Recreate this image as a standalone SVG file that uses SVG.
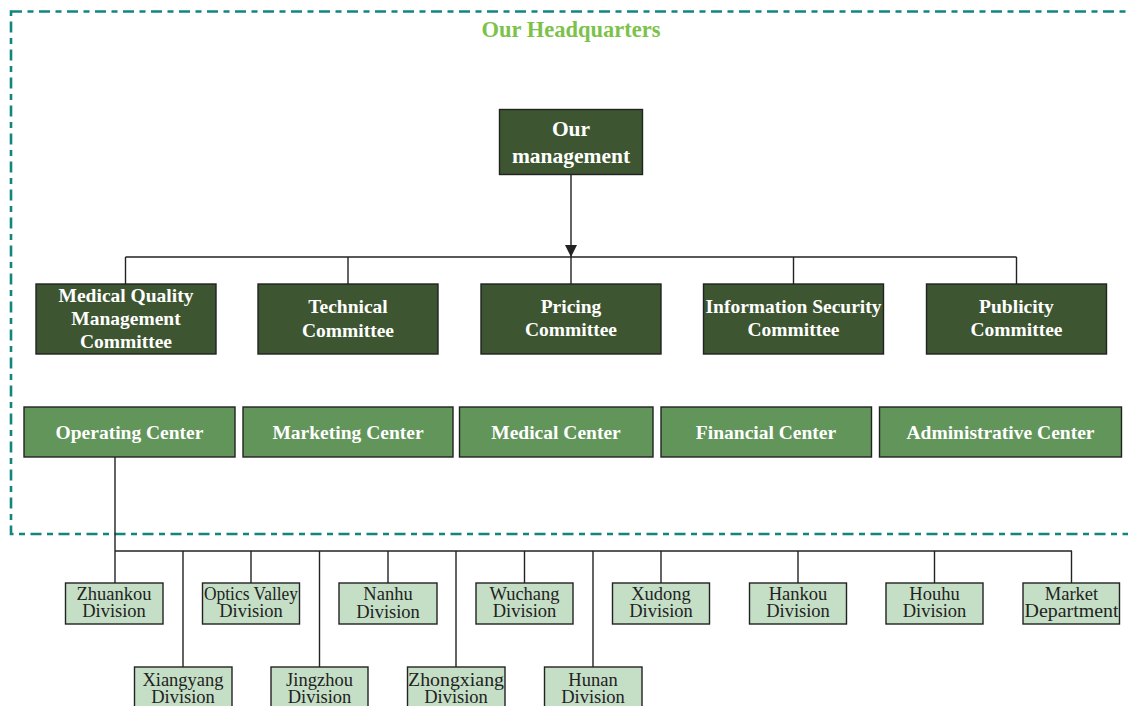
<svg xmlns="http://www.w3.org/2000/svg" width="1128" height="706" viewBox="0 0 1128 706">
<defs>
<style>
.hq{fill:none;stroke:#128580;stroke-width:2.6;stroke-dasharray:11 5.5 6 5.5}
.title{font-family:"Liberation Serif",serif;font-weight:bold;font-size:22.5px;fill:#7cc24a;text-anchor:middle}
.dark{fill:#3d5530;stroke:#222;stroke-width:1.4}
.mid{fill:#62955a;stroke:#222;stroke-width:1.4}
.light{fill:#c5dfc6;stroke:#222;stroke-width:1.4}
.wt{font-family:"Liberation Serif",serif;font-weight:bold;font-size:19.5px;fill:#fff;text-anchor:middle}
.bt{font-family:"Liberation Serif",serif;font-size:18.5px;fill:#222;text-anchor:middle}
.ln{fill:none;stroke:#222;stroke-width:1.4}
</style>
<marker id="arr" viewBox="0 0 12 12" refX="12" refY="6" markerWidth="12" markerHeight="12" markerUnits="userSpaceOnUse" orient="auto">
<path d="M0,0 L12,6 L0,12 Z" fill="#222"/>
</marker>
</defs>
<rect width="1128" height="706" fill="#fff"/>
<rect class="hq" x="11" y="11.5" width="1140" height="522.5"/>
<text class="title" x="571" y="37">Our Headquarters</text>

<g id="connectors">
<line class="ln" x1="571" y1="175" x2="571" y2="257" marker-end="url(#arr)"/>
<line class="ln" x1="125.5" y1="257" x2="1016.5" y2="257"/>
<line class="ln" x1="125.5" y1="257" x2="125.5" y2="284"/>
<line class="ln" x1="348" y1="257" x2="348" y2="284"/>
<line class="ln" x1="571" y1="257" x2="571" y2="284"/>
<line class="ln" x1="793.5" y1="257" x2="793.5" y2="284"/>
<line class="ln" x1="1016.5" y1="257" x2="1016.5" y2="284"/>
<line class="ln" x1="115" y1="457" x2="115" y2="583"/>
<line class="ln" x1="115" y1="551" x2="1072" y2="551"/>
<line class="ln" x1="183" y1="551" x2="183" y2="667"/>
<line class="ln" x1="251" y1="551" x2="251" y2="583"/>
<line class="ln" x1="319.5" y1="551" x2="319.5" y2="667"/>
<line class="ln" x1="388" y1="551" x2="388" y2="583"/>
<line class="ln" x1="456" y1="551" x2="456" y2="667"/>
<line class="ln" x1="524.5" y1="551" x2="524.5" y2="583"/>
<line class="ln" x1="593" y1="551" x2="593" y2="667"/>
<line class="ln" x1="661" y1="551" x2="661" y2="583"/>
<line class="ln" x1="798" y1="551" x2="798" y2="583"/>
<line class="ln" x1="934.5" y1="551" x2="934.5" y2="583"/>
<line class="ln" x1="1071.5" y1="551" x2="1071.5" y2="583"/>
</g>

<g id="management">
<rect class="dark" x="499.5" y="109.5" width="143" height="65"/>
<text class="wt" x="571" y="136" style="font-size:21.5px">Our</text>
<text class="wt" x="571" y="163" style="font-size:21.5px">management</text>
</g>

<g id="medical-quality">
<rect class="dark" x="36" y="284" width="180" height="70"/>
<text class="wt" x="126" y="302">Medical Quality</text>
<text class="wt" x="126" y="325">Management</text>
<text class="wt" x="126" y="348">Committee</text>
</g>
<g id="technical">
<rect class="dark" x="258" y="284" width="180" height="70"/>
<text class="wt" x="348" y="313">Technical</text>
<text class="wt" x="348" y="337">Committee</text>
</g>
<g id="pricing">
<rect class="dark" x="481" y="284" width="180" height="70"/>
<text class="wt" x="571" y="313">Pricing</text>
<text class="wt" x="571" y="336">Committee</text>
</g>
<g id="information-security">
<rect class="dark" x="703.5" y="284" width="180" height="70"/>
<text class="wt" x="793.5" y="313">Information Security</text>
<text class="wt" x="793.5" y="336">Committee</text>
</g>
<g id="publicity">
<rect class="dark" x="926.5" y="284" width="180" height="70"/>
<text class="wt" x="1016.5" y="313">Publicity</text>
<text class="wt" x="1016.5" y="336">Committee</text>
</g>

<g id="operating-center">
<rect class="mid" x="24" y="407" width="211" height="50"/>
<text class="wt" x="129.5" y="439">Operating Center</text>
</g>
<g id="marketing-center">
<rect class="mid" x="243" y="407" width="210" height="50"/>
<text class="wt" x="348" y="439">Marketing Center</text>
</g>
<g id="medical-center">
<rect class="mid" x="459.5" y="407" width="193.5" height="50"/>
<text class="wt" x="556" y="439">Medical Center</text>
</g>
<g id="financial-center">
<rect class="mid" x="661" y="407" width="210.5" height="50"/>
<text class="wt" x="766" y="439">Financial Center</text>
</g>
<g id="administrative-center">
<rect class="mid" x="879.5" y="407" width="242" height="50"/>
<text class="wt" x="1000.5" y="439">Administrative Center</text>
</g>

<g id="zhuankou">
<rect class="light" x="65.5" y="583" width="97.5" height="41"/>
<text class="bt" x="114" y="600">Zhuankou</text>
<text class="bt" x="114" y="617">Division</text>
</g>
<g id="optics-valley">
<rect class="light" x="202.5" y="583" width="97" height="41"/>
<text class="bt" x="251" y="600" textLength="94" lengthAdjust="spacingAndGlyphs">Optics Valley</text>
<text class="bt" x="251" y="617">Division</text>
</g>
<g id="nanhu">
<rect class="light" x="339" y="583" width="98" height="41"/>
<text class="bt" x="388" y="600">Nanhu</text>
<text class="bt" x="388" y="618">Division</text>
</g>
<g id="wuchang">
<rect class="light" x="476" y="583" width="97" height="41"/>
<text class="bt" x="524.5" y="600">Wuchang</text>
<text class="bt" x="524.5" y="617">Division</text>
</g>
<g id="xudong">
<rect class="light" x="612.5" y="583" width="97" height="41"/>
<text class="bt" x="661" y="600">Xudong</text>
<text class="bt" x="661" y="617">Division</text>
</g>
<g id="hankou">
<rect class="light" x="749.5" y="583" width="97" height="41"/>
<text class="bt" x="798" y="600">Hankou</text>
<text class="bt" x="798" y="617">Division</text>
</g>
<g id="houhu">
<rect class="light" x="886" y="583" width="97" height="41"/>
<text class="bt" x="934.5" y="600">Houhu</text>
<text class="bt" x="934.5" y="617">Division</text>
</g>
<g id="market-department">
<rect class="light" x="1023" y="583" width="96.5" height="41"/>
<text class="bt" x="1071.5" y="600">Market</text>
<text class="bt" x="1071.5" y="617" textLength="94" lengthAdjust="spacingAndGlyphs">Department</text>
</g>

<g id="xiangyang">
<rect class="light" x="134.5" y="667" width="97.5" height="45"/>
<text class="bt" x="183" y="686">Xiangyang</text>
<text class="bt" x="183" y="703">Division</text>
</g>
<g id="jingzhou">
<rect class="light" x="271" y="667" width="97" height="45"/>
<text class="bt" x="319.5" y="686">Jingzhou</text>
<text class="bt" x="319.5" y="703">Division</text>
</g>
<g id="zhongxiang">
<rect class="light" x="407.5" y="667" width="97.5" height="45"/>
<text class="bt" x="456" y="686" textLength="96" lengthAdjust="spacingAndGlyphs">Zhongxiang</text>
<text class="bt" x="456" y="703">Division</text>
</g>
<g id="hunan">
<rect class="light" x="544.5" y="667" width="97.5" height="45"/>
<text class="bt" x="593" y="686">Hunan</text>
<text class="bt" x="593" y="703">Division</text>
</g>
</svg>
